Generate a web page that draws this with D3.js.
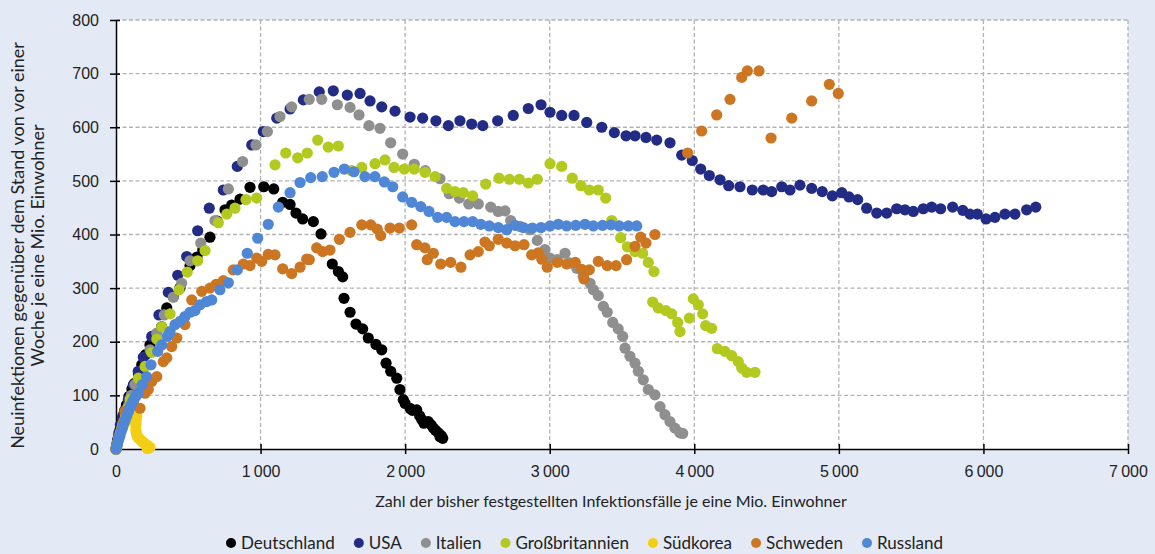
<!DOCTYPE html>
<html>
<head>
<meta charset="utf-8">
<script src="https://cdn.jsdelivr.net/npm/d3@7"></script>
<style>
  html, body { margin: 0; padding: 0; background: #e3eaf6; }
  svg { display: block; font-family: Lato, "Open Sans", sans-serif; }
  .grid line { stroke: #b3b3b3; stroke-width: 1.3; stroke-dasharray: 4,2.5; }
  .axis path, .axis line { stroke: #000; stroke-width: 1.5; }
  .axis text { font-size: 16px; fill: #222; }
</style>
</head>
<body>
<svg id="chart" width="1155" height="554"></svg>
<script>
// Werte: [Infektionsfälle je Mio., Neuinfektionen ggü. Vorwoche je Mio.]
var deutschland = [[0,0],[4,6],[10,14],[18,24],[28,36],[40,50],[55,66],[72,82],[90,98],[110,112],[131,123],[155,140],[178,157],[205,176],[235,194],[270,210],[316,228],[351,263],[396,284],[443,301],[512,342],[560,358],[600,371],[650,395],[700,425],[754,446],[800,455],[858,466],[927,488],[1022,489],[1091,485],[1153,460],[1204,456],[1245,440],[1291,429],[1365,424],[1418,401],[1496,345],[1538,331],[1568,321],[1577,281],[1619,255],[1660,233],[1706,224],[1745,207],[1798,195],[1838,185],[1868,160],[1900,145],[1942,132],[1964,111],[1987,92],[2000,85],[2034,76],[2050,72],[2080,73],[2100,62],[2115,55],[2130,48],[2160,51],[2180,45],[2195,39],[2210,35],[2230,30],[2241,23],[2250,25],[2260,20]];

var usa = [[0,0],[5,8],[12,18],[20,30],[30,45],[45,60],[60,72],[85,92],[120,120],[154,145],[189,171],[247,210],[297,250],[362,292],[427,324],[489,359],[565,407],[645,449],[742,483],[839,527],[939,567],[1019,592],[1112,617],[1204,634],[1296,651],[1406,666],[1503,668],[1600,660],[1688,663],[1757,649],[1838,638],[1930,630],[2034,619],[2121,617],[2213,612],[2299,603],[2379,612],[2460,606],[2537,603],[2640,612],[2748,622],[2852,635],[2940,642],[3002,628],[3083,622],[3168,622],[3256,609],[3360,600],[3447,590],[3528,584],[3590,584],[3666,581],[3740,576],[3832,571],[3913,548],[3986,538],[4044,522],[4104,510],[4178,502],[4238,491],[4316,489],[4401,483],[4477,483],[4535,480],[4605,489],[4662,483],[4731,492],[4812,486],[4885,480],[4955,472],[5020,478],[5070,470],[5130,465],[5192,449],[5262,440],[5331,440],[5400,448],[5457,446],[5515,443],[5584,448],[5642,451],[5704,448],[5787,451],[5857,445],[5907,438],[5958,438],[6018,429],[6080,432],[6149,438],[6218,438],[6299,446],[6362,451]];

var italien = [[0,0],[10,10],[25,25],[45,45],[65,65],[85,80],[105,100],[131,120],[235,185],[282,216],[334,250],[396,283],[454,309],[512,351],[586,384],[685,426],[777,485],[876,536],[968,567],[1047,592],[1134,620],[1215,638],[1337,652],[1423,652],[1531,642],[1619,637],[1681,623],[1750,603],[1826,598],[1900,571],[1983,550],[2063,531],[2139,519],[2241,504],[2305,476],[2375,468],[2440,457],[2506,457],[2592,451],[2644,443],[2691,444],[2730,426],[2794,415],[2864,409],[2914,389],[2967,372],[3002,356],[3053,353],[3106,365],[3140,347],[3187,337],[3232,322],[3279,309],[3302,297],[3336,286],[3371,266],[3398,255],[3436,236],[3474,224],[3505,210],[3521,188],[3555,173],[3590,160],[3613,145],[3647,129],[3682,111],[3728,101],[3763,79],[3797,64],[3832,51],[3866,39],[3901,30],[3920,29]];

var grossbritannien = [[0,0],[10,8],[25,22],[45,40],[65,58],[80,75],[97,92],[154,132],[201,154],[247,180],[282,205],[316,228],[374,252],[436,297],[493,330],[565,351],[616,370],[708,422],[766,438],[823,449],[899,465],[973,468],[1100,530],[1174,552],[1257,543],[1323,552],[1395,576],[1468,563],[1538,565],[1630,519],[1700,525],[1792,532],[1861,539],[1923,525],[1994,522],[2063,522],[2137,516],[2207,508],[2287,486],[2345,480],[2402,478],[2467,472],[2557,494],[2649,505],[2721,503],[2790,503],[2852,496],[2914,503],[3002,532],[3083,527],[3156,505],[3216,491],[3274,483],[3336,483],[3387,468],[3429,426],[3491,394],[3537,377],[3590,368],[3643,365],[3682,348],[3721,331],[3712,274],[3751,263],[3804,258],[3844,252],[3885,236],[3901,219],[3966,244],[3993,280],[4028,269],[4058,252],[4079,230],[4120,225],[4159,187],[4212,182],[4259,174],[4304,163],[4328,151],[4362,143],[4420,143]];

var suedkorea = [[0,0],[5,5],[12,12],[20,20],[30,30],[40,38],[55,45],[70,52],[85,57],[100,60],[115,62],[130,63],[143,61],[140,55],[138,48],[137,42],[138,35],[140,30],[145,25],[150,22],[160,20],[170,17],[180,14],[190,12],[200,10],[210,8],[220,6],[230,4],[235,3],[225,2],[215,1]];

var schweden = [[0,0],[10,10],[20,22],[35,35],[50,50],[62,70],[120,86],[166,76],[201,104],[223,111],[247,126],[282,135],[327,163],[351,170],[385,191],[420,207],[477,232],[524,278],[593,294],[650,300],[692,307],[742,314],[811,334],[881,345],[927,342],[973,356],[1008,350],[1053,363],[1100,362],[1153,336],[1215,327],[1273,339],[1319,354],[1337,353],[1388,375],[1430,368],[1480,371],[1545,391],[1619,404],[1700,418],[1762,418],[1807,410],[1831,398],[1895,412],[1960,412],[2045,418],[2080,381],[2137,375],[2153,353],[2195,365],[2246,345],[2315,348],[2386,339],[2449,362],[2506,368],[2552,386],[2582,379],[2644,391],[2702,384],[2760,379],[2822,381],[2875,362],[2921,366],[2945,354],[2983,339],[3052,348],[3117,345],[3177,348],[3221,335],[3237,317],[3274,334],[3336,350],[3398,342],[3459,342],[3532,353],[3590,378],[3629,395],[3666,384],[3728,400],[3954,552],[4051,593],[4155,623],[4247,652],[4328,693],[4367,705],[4448,705],[4531,580],[4674,617],[4812,649],[4934,680],[4996,663]];

var russland = [[0,0],[5,5],[10,10],[18,17],[26,24],[35,32],[45,40],[55,48],[65,55],[75,62],[85,70],[95,76],[105,82],[115,88],[125,93],[135,98],[145,101],[154,104],[182,120],[212,135],[242,157],[288,182],[316,194],[355,210],[374,219],[408,232],[443,238],[477,247],[512,255],[546,258],[581,269],[627,275],[662,278],[719,297],[777,310],[839,334],[908,365],[980,393],[1053,419],[1123,451],[1204,478],[1273,497],[1347,506],[1427,508],[1508,516],[1579,522],[1646,517],[1722,508],[1791,508],[1856,498],[1914,489],[1983,470],[2045,460],[2108,452],[2165,443],[2225,432],[2287,432],[2345,424],[2407,424],[2467,424],[2523,419],[2582,416],[2644,413],[2702,409],[2760,417],[2817,413],[2880,412],[2940,413],[3002,416],[3059,419],[3117,416],[3180,417],[3244,419],[3302,416],[3366,417],[3424,418],[3481,416],[3544,416],[3602,416]];

var series_names  = ['Deutschland', 'USA', 'Italien', 'Großbritannien', 'Südkorea', 'Schweden', 'Russland'];
var series_values = [deutschland, usa, italien, grossbritannien, suedkorea, schweden, russland];
var series_colors = ['#000000', '#232c84', '#8f8f8f', '#b3c91f', '#f2cf15', '#cc7622', '#4f87d6'];

var x_ticks = [0, 1000, 2000, 3000, 4000, 5000, 6000, 7000];
var y_ticks = [0, 100, 200, 300, 400, 500, 600, 700, 800];

var y_title = ['Neuinfektionen gegenüber dem Stand von vor einer', 'Woche je eine Mio. Einwohner'];
var x_title = 'Zahl der bisher festgestellten Infektionsfälle je eine Mio. Einwohner';

function scatter_draw(o) {
  var svg = d3.select(o.container);

  var m = { top: 20, right: 27, bottom: 105, left: 116 };
  var width  = +svg.attr('width') - m.left - m.right;
  var height = +svg.attr('height') - m.top - m.bottom;

  var x = d3.scaleLinear().domain([0, 7000]).range([0, width]);
  var y = d3.scaleLinear().domain([0, 800]).range([height, 0]);

  var de = d3.formatLocale({ decimal: ',', thousands: '\u202f', grouping: [3], currency: ['', ' €'] });
  var fmt = de.format(',d');

  var gph = svg.append('g').attr('transform', `translate(${m.left},${m.top})`);

  gph.append('rect')
    .attr('width', width)
    .attr('height', height)
    .style('fill', '#fff');

  var grid = gph.append('g').attr('class', 'grid');

  grid.selectAll('line.h')
    .data(y_ticks.filter((d) => d > 0)).enter()
    .append('line')
    .attr('class', 'h')
    .attr('x1', 0).attr('x2', width)
    .attr('y1', (d) => y(d)).attr('y2', (d) => y(d));

  grid.selectAll('line.v')
    .data(x_ticks.filter((d) => d > 0)).enter()
    .append('line')
    .attr('class', 'v')
    .attr('y1', 0).attr('y2', height)
    .attr('x1', (d) => x(d)).attr('x2', (d) => x(d));

  // crossing ticks, like the original
  var xa = gph.append('g')
    .attr('class', 'axis x-axis')
    .attr('transform', `translate(0,${height})`)
    .call(d3.axisBottom(x).tickValues(x_ticks).tickFormat(fmt).tickSizeInner(5).tickSizeOuter(0).tickPadding(12));

  xa.selectAll('.tick line').attr('y1', -5);

  var ya = gph.append('g')
    .attr('class', 'axis y-axis')
    .call(d3.axisLeft(y).tickValues(y_ticks).tickSizeInner(6).tickSizeOuter(0).tickPadding(11));

  ya.selectAll('.tick line').attr('x1', 4);

  svg.selectAll('.axis path').attr('stroke-width', 1.6);

  var layer = gph.selectAll('g.series')
    .data(o.values).enter()
    .append('g')
    .attr('class', 'series');

  layer.selectAll('circle')
    .data((d) => d)
    .enter().append('circle')
    .attr('cx', (d) => x(d[0]))
    .attr('cy', (d) => y(d[1]))
    .attr('r', 5.6)
    .style('fill', function() { return o.colors[o.values.indexOf(d3.select(this.parentNode).datum())]; });

  // axis titles
  var yt = svg.append('text')
    .attr('transform', `translate(0,${m.top + height / 2 + 11}) rotate(-90)`)
    .attr('text-anchor', 'middle')
    .style('font-size', '18px')
    .style('fill', '#222');

  yt.selectAll('tspan')
    .data(y_title).enter()
    .append('tspan')
    .attr('x', 0)
    .attr('y', (d, i) => 24 + i * 20)
    .text((d) => d);

  svg.append('text')
    .attr('x', 611)
    .attr('y', 507)
    .attr('text-anchor', 'middle')
    .style('font-size', '16px')
    .style('fill', '#222')
    .text(x_title);

  // legend
  var leg = svg.append('g').attr('class', 'legend');

  var items = leg.selectAll('g')
    .data(o.names).enter()
    .append('g');

  items.append('circle')
    .attr('r', 5)
    .attr('cy', 543)
    .style('fill', (d, i) => o.colors[i]);

  items.append('text')
    .attr('x', 10)
    .attr('y', 549)
    .style('font-size', '17px')
    .style('fill', '#222')
    .text((d) => d);

  var pos = 0;
  items.each(function() {
    var w = d3.select(this).select('text').node().getComputedTextLength();
    d3.select(this).attr('data-x', pos);
    pos += 10 + w + 24;
  });

  var total = pos - 24;
  var start = 582 - total / 2 + 5;

  items.attr('transform', function() { return `translate(${start + (+d3.select(this).attr('data-x'))},0)`; });

  return { svg: svg, graph: gph, width: width, height: height };
}

scatter_draw({
  container: '#chart',
  names: series_names,
  values: series_values,
  colors: series_colors
});
</script>
</body>
</html>
